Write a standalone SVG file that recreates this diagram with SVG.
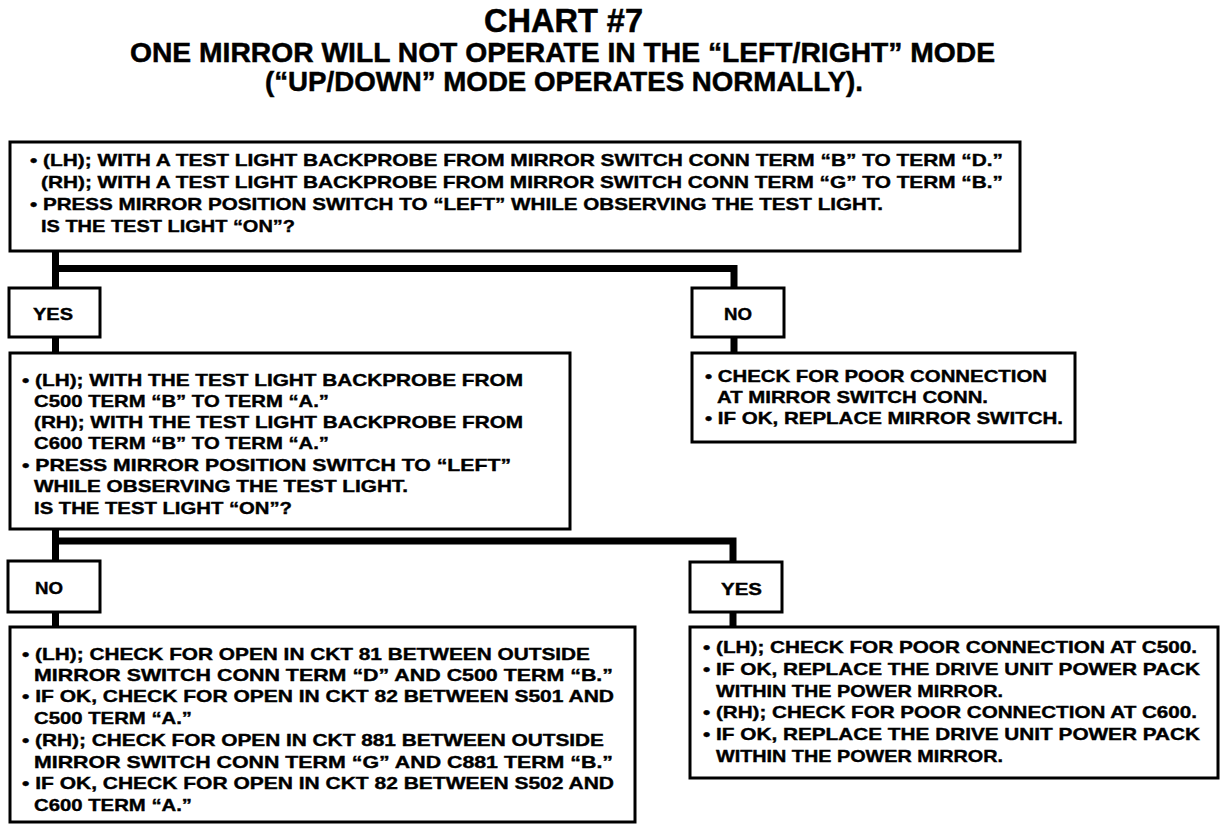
<svg xmlns="http://www.w3.org/2000/svg" width="1232" height="832" viewBox="0 0 1232 832">
<style>
.bg{fill:#fff}
.box{fill:#fff;stroke:#000;stroke-width:3}
.conn{fill:none;stroke:#000;stroke-width:7;stroke-linejoin:miter}
.t{font-family:"Liberation Sans",Arial,sans-serif;font-weight:bold;font-size:17px;fill:#000;stroke:#000;stroke-width:0.4}
.lbl{font-family:"Liberation Sans",Arial,sans-serif;font-weight:bold;font-size:17px;fill:#000;stroke:#000;stroke-width:0.4}
.title{font-family:"Liberation Sans",Arial,sans-serif;font-weight:bold;fill:#000;stroke:#000;stroke-width:0.5}
</style>
<rect class="bg" x="0" y="0" width="1232" height="832"/>
<g id="title">
<text class="title" x="484" y="32" font-size="33" textLength="159" lengthAdjust="spacingAndGlyphs">CHART #7</text>
<text class="title" x="130" y="62" font-size="28" textLength="865" lengthAdjust="spacingAndGlyphs">ONE MIRROR WILL NOT OPERATE IN THE “LEFT/RIGHT” MODE</text>
<text class="title" x="265" y="91" font-size="28" textLength="598" lengthAdjust="spacingAndGlyphs">(“UP/DOWN” MODE OPERATES NORMALLY).</text>
</g>
<g id="connectors">
<path class="conn" d="M55.5,251 V288 M55.5,268.5 H734 V288"/>
<path class="conn" d="M55.5,337 V353"/>
<path class="conn" d="M734,337 V353"/>
<path class="conn" d="M55.5,529 V561 M55.5,541 H733 V562"/>
<path class="conn" d="M55.5,612 V627"/>
<path class="conn" d="M733,612 V627"/>
</g>
<g id="start">
<rect class="box" x="10" y="142" width="1010" height="109"/>
<text class="t" x="30" y="166" textLength="973" lengthAdjust="spacingAndGlyphs">• (LH); WITH A TEST LIGHT BACKPROBE FROM MIRROR SWITCH CONN TERM “B” TO TERM “D.”</text>
<text class="t" x="41" y="188" textLength="962" lengthAdjust="spacingAndGlyphs">(RH); WITH A TEST LIGHT BACKPROBE FROM MIRROR SWITCH CONN TERM “G” TO TERM “B.”</text>
<text class="t" x="30" y="210" textLength="853" lengthAdjust="spacingAndGlyphs">• PRESS MIRROR POSITION SWITCH TO “LEFT” WHILE OBSERVING THE TEST LIGHT.</text>
<text class="t" x="41" y="232" textLength="254" lengthAdjust="spacingAndGlyphs">IS THE TEST LIGHT “ON”?</text>
</g>
<g id="yes1">
<rect class="box" x="9" y="288" width="91" height="49"/>
<text class="lbl" x="33" y="320" textLength="40" lengthAdjust="spacingAndGlyphs">YES</text>
</g>
<g id="no1">
<rect class="box" x="692" y="288" width="92" height="49"/>
<text class="lbl" x="724" y="320" textLength="28" lengthAdjust="spacingAndGlyphs">NO</text>
</g>
<g id="step2">
<rect class="box" x="10" y="353" width="560" height="176"/>
<text class="t" x="22" y="386" textLength="501" lengthAdjust="spacingAndGlyphs">• (LH); WITH THE TEST LIGHT BACKPROBE FROM</text>
<text class="t" x="34" y="407" textLength="295" lengthAdjust="spacingAndGlyphs">C500 TERM “B” TO TERM “A.”</text>
<text class="t" x="34" y="428" textLength="489" lengthAdjust="spacingAndGlyphs">(RH); WITH THE TEST LIGHT BACKPROBE FROM</text>
<text class="t" x="34" y="449" textLength="295" lengthAdjust="spacingAndGlyphs">C600 TERM “B” TO TERM “A.”</text>
<text class="t" x="22" y="471" textLength="489" lengthAdjust="spacingAndGlyphs">• PRESS MIRROR POSITION SWITCH TO “LEFT”</text>
<text class="t" x="34" y="492" textLength="374" lengthAdjust="spacingAndGlyphs">WHILE OBSERVING THE TEST LIGHT.</text>
<text class="t" x="34" y="514" textLength="258" lengthAdjust="spacingAndGlyphs">IS THE TEST LIGHT “ON”?</text>
</g>
<g id="fix-switch">
<rect class="box" x="692" y="353" width="383" height="89"/>
<text class="t" x="705" y="382" textLength="342" lengthAdjust="spacingAndGlyphs">• CHECK FOR POOR CONNECTION</text>
<text class="t" x="717" y="403" textLength="271" lengthAdjust="spacingAndGlyphs">AT MIRROR SWITCH CONN.</text>
<text class="t" x="705" y="424" textLength="358" lengthAdjust="spacingAndGlyphs">• IF OK, REPLACE MIRROR SWITCH.</text>
</g>
<g id="no2">
<rect class="box" x="8" y="561" width="92" height="51"/>
<text class="lbl" x="35" y="594" textLength="28" lengthAdjust="spacingAndGlyphs">NO</text>
</g>
<g id="yes2">
<rect class="box" x="690" y="562" width="92" height="50"/>
<text class="lbl" x="721" y="595" textLength="41" lengthAdjust="spacingAndGlyphs">YES</text>
</g>
<g id="check-open">
<rect class="box" x="10" y="627" width="625" height="195"/>
<text class="t" x="22" y="660" textLength="568" lengthAdjust="spacingAndGlyphs">• (LH); CHECK FOR OPEN IN CKT 81 BETWEEN OUTSIDE</text>
<text class="t" x="34" y="681" textLength="579" lengthAdjust="spacingAndGlyphs">MIRROR SWITCH CONN TERM “D” AND C500 TERM “B.”</text>
<text class="t" x="22" y="702" textLength="592" lengthAdjust="spacingAndGlyphs">• IF OK, CHECK FOR OPEN IN CKT 82 BETWEEN S501 AND</text>
<text class="t" x="34" y="724" textLength="158" lengthAdjust="spacingAndGlyphs">C500 TERM “A.”</text>
<text class="t" x="22" y="746" textLength="582" lengthAdjust="spacingAndGlyphs">• (RH); CHECK FOR OPEN IN CKT 881 BETWEEN OUTSIDE</text>
<text class="t" x="34" y="768" textLength="579" lengthAdjust="spacingAndGlyphs">MIRROR SWITCH CONN TERM “G” AND C881 TERM “B.”</text>
<text class="t" x="22" y="789" textLength="592" lengthAdjust="spacingAndGlyphs">• IF OK, CHECK FOR OPEN IN CKT 82 BETWEEN S502 AND</text>
<text class="t" x="34" y="811" textLength="158" lengthAdjust="spacingAndGlyphs">C600 TERM “A.”</text>
</g>
<g id="replace-pack">
<rect class="box" x="690" y="627" width="528" height="151"/>
<text class="t" x="703" y="653" textLength="494" lengthAdjust="spacingAndGlyphs">• (LH); CHECK FOR POOR CONNECTION AT C500.</text>
<text class="t" x="703" y="675" textLength="497" lengthAdjust="spacingAndGlyphs">• IF OK, REPLACE THE DRIVE UNIT POWER PACK</text>
<text class="t" x="716" y="697" textLength="287" lengthAdjust="spacingAndGlyphs">WITHIN THE POWER MIRROR.</text>
<text class="t" x="703" y="718" textLength="494" lengthAdjust="spacingAndGlyphs">• (RH); CHECK FOR POOR CONNECTION AT C600.</text>
<text class="t" x="703" y="740" textLength="497" lengthAdjust="spacingAndGlyphs">• IF OK, REPLACE THE DRIVE UNIT POWER PACK</text>
<text class="t" x="716" y="762" textLength="287" lengthAdjust="spacingAndGlyphs">WITHIN THE POWER MIRROR.</text>
</g>
</svg>
